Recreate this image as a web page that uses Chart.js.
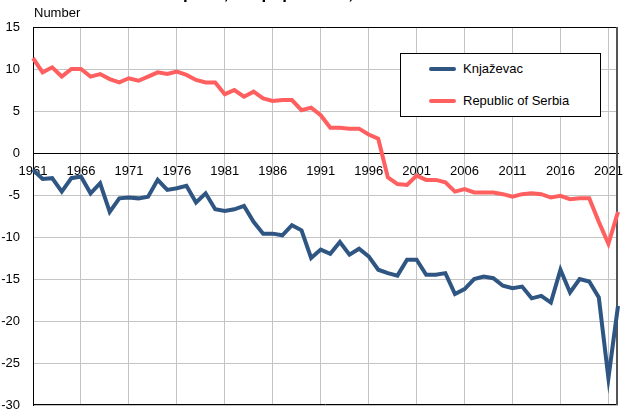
<!DOCTYPE html>
<html>
<head>
<meta charset="utf-8">
<title>Natural increase</title>
<script src="https://cdn.jsdelivr.net/npm/chart.js@4.4.0/dist/chart.umd.min.js"></script>
<style>
  html, body { margin: 0; padding: 0; background: #fff; }
  #wrap { position: relative; width: 629px; height: 410px; overflow: hidden; }
  #legend {
    position: absolute; left: 400px; top: 53px; width: 199px; height: 62px;
    border: 1px solid #000; background: #fff;
    font: 13px "Liberation Sans", Arial, sans-serif; color: #000;
  }
  #legend .row { position: absolute; left: 0; height: 20px; line-height: 20px; white-space: nowrap; }
  #legend .swatch { position: absolute; left: 28px; top: 8px; width: 27px; height: 4px; border-radius: 2px; }
  #legend .txt { position: absolute; left: 62px; top: 0; }
</style>
</head>
<body>
<div id="wrap">
  <canvas id="chart" width="629" height="410"></canvas>
  <div id="legend"></div>
</div>
<script>
  var YEARS = [
    "1961", "1962", "1963", "1964", "1965", "1966", "1967", "1968", "1969", "1970",
    "1971", "1972", "1973", "1974", "1975", "1976", "1977", "1978", "1979", "1980",
    "1981", "1982", "1983", "1984", "1985", "1986", "1987", "1988", "1989", "1990",
    "1991", "1992", "1993", "1994", "1995", "1996", "1997", "1998", "1999", "2000",
    "2001", "2002", "2003", "2004", "2005", "2006", "2007", "2008", "2009", "2010",
    "2011", "2012", "2013", "2014", "2015", "2016", "2017", "2018", "2019", "2020",
    "2021", "2022"
  ];
  var TICK_LABELS = ["1961", "1966", "1971", "1976", "1981", "1986", "1991", "1996", "2001", "2006", "2011", "2016", "2021"];

  // Knjaževac
  var KNJAZEVAC = [
    -2.0, -3.1, -3.0, -4.6, -3.0, -2.8, -4.8, -3.6, -7.0, -5.4,
    -5.3, -5.4, -5.2, -3.2, -4.4, -4.2, -3.9, -5.9, -4.8, -6.7,
    -6.9, -6.7, -6.3, -8.2, -9.6, -9.6, -9.8, -8.6, -9.2, -12.5,
    -11.5, -12.0, -10.6, -12.1, -11.4, -12.3, -13.9, -14.3, -14.6, -12.7,
    -12.7, -14.5, -14.5, -14.3, -16.8, -16.2, -15.0, -14.7, -14.9, -15.8,
    -16.1, -15.9, -17.3, -17.0, -17.8, -13.9, -16.6, -15.0, -15.3, -17.2,
    -26.8, -18.2
  ];
  // Republic of Serbia
  var SERBIA = [
    11.3, 9.6, 10.2, 9.1, 10.0, 10.0, 9.1, 9.4, 8.8, 8.4,
    8.9, 8.6, 9.1, 9.6, 9.4, 9.7, 9.3, 8.7, 8.4, 8.4,
    7.0, 7.5, 6.7, 7.3, 6.5, 6.2, 6.3, 6.3, 5.1, 5.4,
    4.5, 3.0, 3.0, 2.9, 2.9, 2.2, 1.7, -2.9, -3.7, -3.8,
    -2.7, -3.2, -3.2, -3.5, -4.6, -4.3, -4.7, -4.7, -4.7, -4.9,
    -5.2, -4.9, -4.8, -4.9, -5.3, -5.1, -5.5, -5.4, -5.4, -8.2,
    -10.8, -7.0
  ];

  var Y_MIN = -30, Y_MAX = 15, Y_STEP = 5;
  var TITLE = "Natural increase per 1,000 population, 1961–2022";
  var Y_UNIT = "Number";

  var FONT = "'Liberation Sans', Arial, sans-serif";
  var GRID = "#c4c4c4";
  var BLUE = "#2f5683";
  var RED = "#ff5f5f";

  var framePlugin = {
    id: "frame",
    beforeDatasetsDraw: function (chart) {
      var a = chart.chartArea;
      var ctx = chart.ctx;
      ctx.save();
      ctx.strokeStyle = "#000";
      ctx.lineWidth = 1;
      ctx.beginPath();
      ctx.moveTo(a.left + 0.5, a.bottom - 0.5);
      ctx.lineTo(a.left + 0.5, a.top + 0.5);
      ctx.lineTo(a.right, a.top + 0.5);
      ctx.moveTo(a.left, a.bottom - 0.5);
      ctx.lineTo(a.right, a.bottom - 0.5);
      ctx.stroke();
      ctx.strokeStyle = "#555";
      ctx.lineWidth = 2;
      ctx.beginPath();
      ctx.moveTo(a.right - 1, a.top);
      ctx.lineTo(a.right - 1, a.bottom);
      ctx.stroke();
      ctx.restore();
    },
    afterDraw: function (chart) {
      var ctx = chart.ctx;
      ctx.save();
      ctx.fillStyle = "#000";
      // the title sits above the top edge; only its descenders show
      ctx.textBaseline = "alphabetic";
      ctx.font = "bold 17px " + FONT;
      ctx.fillText(TITLE, 46, -1);
      ctx.font = "13px " + FONT;
      ctx.textBaseline = "middle";
      ctx.fillText(Y_UNIT, 34, 13);
      ctx.restore();
    }
  };

  var chart = new Chart(document.getElementById("chart"), {
    type: "line",
    data: {
      labels: YEARS,
      datasets: [
        {
          label: "Knjaževac",
          data: KNJAZEVAC,
          borderColor: BLUE,
          backgroundColor: BLUE,
          borderWidth: 4,
          pointRadius: 0,
          tension: 0,
        },
        {
          label: "Republic of Serbia",
          data: SERBIA,
          borderColor: RED,
          backgroundColor: RED,
          borderWidth: 4,
          pointRadius: 0,
          tension: 0,
        },
      ],
    },
    options: {
      responsive: false,
      animation: false,
      layout: { padding: { top: 27, right: 9, bottom: 5, left: 0 } },
      plugins: {
        legend: { display: false },
        title: { display: false },
        tooltip: { enabled: false },
      },
      scales: {
        x: {
          type: "category",
          position: { y: 0 },
          offset: false,
          border: { display: true, color: "#000", width: 1 },
          grid: {
            drawTicks: false,
            color: function (ctx) {
              var lab = YEARS[ctx.index];
              return TICK_LABELS.indexOf(lab) >= 0 ? GRID : "transparent";
            },
          },
          ticks: {
            autoSkip: false,
            maxRotation: 0,
            minRotation: 0,
            padding: 11,
            color: "#000",
            font: { family: FONT, size: 13 },
            callback: function (v, i) {
              var lab = YEARS[i];
              return TICK_LABELS.indexOf(lab) >= 0 ? lab : "";
            },
          },
        },
        y: {
          min: Y_MIN,
          max: Y_MAX,
          border: { display: true, color: "#000" },
          grid: {
            drawTicks: false,
            color: function (ctx) {
              return ctx.tick && ctx.tick.value === 0 ? "#000" : GRID;
            },
          },
          ticks: {
            stepSize: Y_STEP,
            padding: 13,
            color: "#000",
            font: { family: FONT, size: 13 },
          },
          afterFit: function (scale) {
            scale.width = 33;
            scale.paddingTop = 0;
            scale.paddingBottom = 0;
          },
        },
      },
    },
    plugins: [framePlugin],
  });

  var legendEl = document.getElementById("legend");
  chart.data.datasets.forEach(function (ds, i) {
    var row = document.createElement("div");
    row.className = "row";
    row.style.top = (5 + i * 32) + "px";
    var sw = document.createElement("span");
    sw.className = "swatch";
    sw.style.background = ds.borderColor;
    var tx = document.createElement("span");
    tx.className = "txt";
    tx.textContent = ds.label;
    row.appendChild(sw);
    row.appendChild(tx);
    legendEl.appendChild(row);
  });
</script>
</body>
</html>
